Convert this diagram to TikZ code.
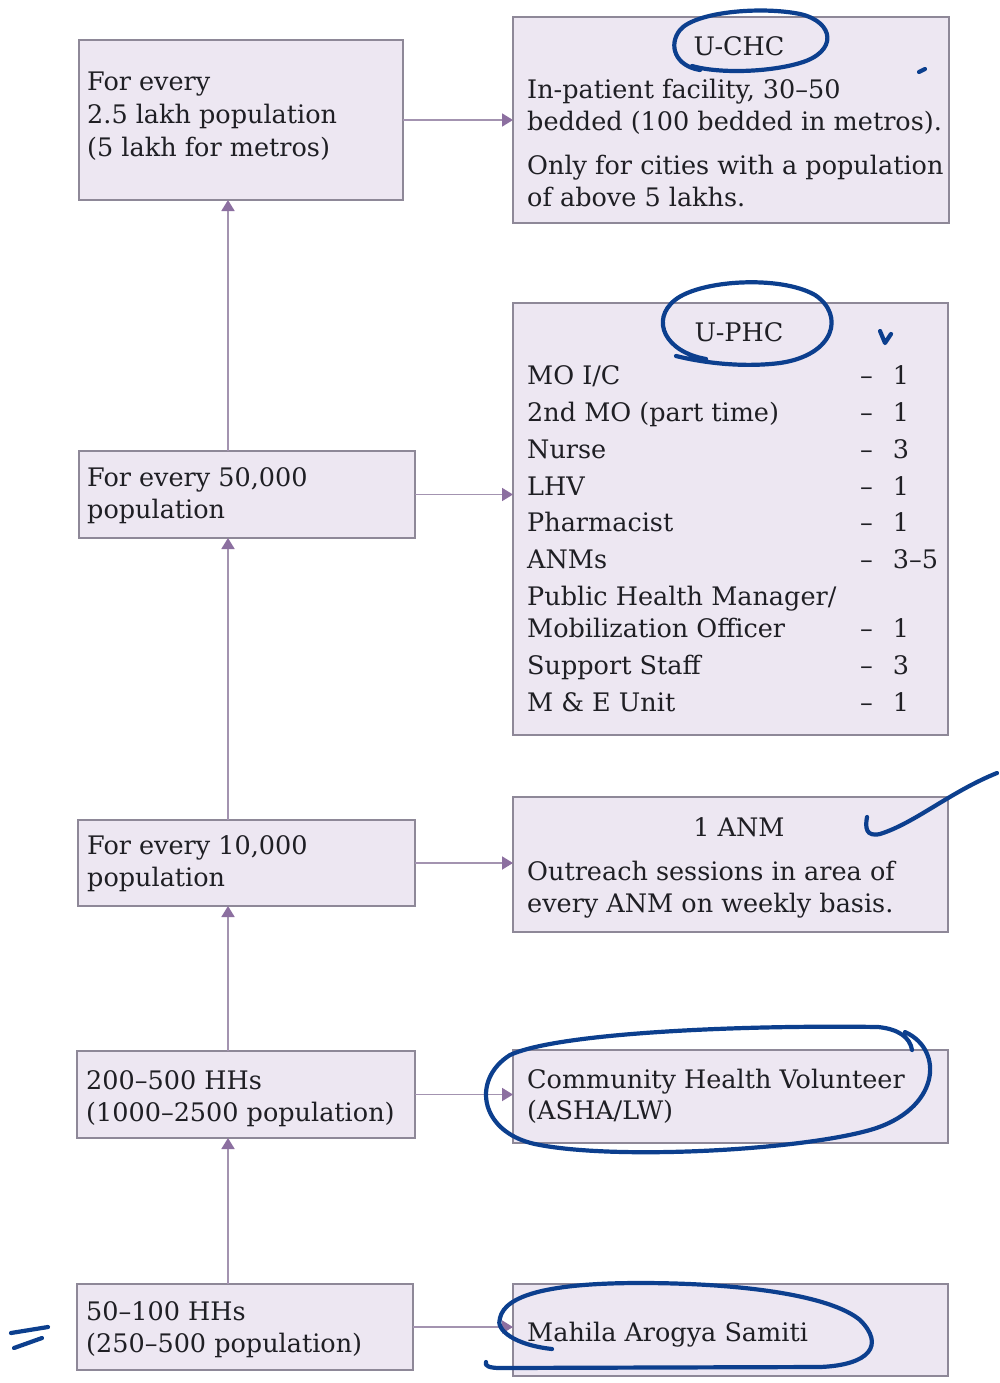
\documentclass[tikz,border=0pt]{standalone}
\usepackage{fontspec}
\setmainfont{DejaVu Serif}
\usetikzlibrary{arrows.meta}
\definecolor{boxfill}{HTML}{EDE7F2}
\definecolor{boxline}{HTML}{8E8898}
\definecolor{textc}{HTML}{1F1F24}
\definecolor{connc}{HTML}{A393B0}
\definecolor{tipc}{HTML}{8C6FA0}
\definecolor{pen}{HTML}{0C3F8E}
\tikzset{
  box/.style={draw=boxline, fill=boxfill, line width=1.8pt, inner sep=0pt, outer sep=0pt},
  txt/.style={anchor=base west, inner sep=0pt, text=textc, font=\fontsize{25.5}{32}\selectfont},
  ctxt/.style={anchor=base, inner sep=0pt, text=textc, font=\fontsize{25.5}{32}\selectfont},
  conn/.style={draw=connc, line width=1.8pt, -{Triangle[length=11pt,width=13pt,color=tipc]}},
  ink/.style={draw=pen, line width=4.2pt, line cap=round, line join=round}
}
\newcommand{\cnt}[1]{–\hspace{20pt}#1}
\begin{document}
\begin{tikzpicture}[x=1pt,y=-1pt]
\useasboundingbox[fill=white] (0,0) rectangle (999,1383);

% left boxes
\node[box, minimum width=324pt, minimum height=160pt] (L1) at (241,120) {};
\node[box, minimum width=336pt, minimum height=87pt] (L2) at (247,494.5) {};
\node[box, minimum width=337pt, minimum height=86pt] (L3) at (246.5,863) {};
\node[box, minimum width=338pt, minimum height=87pt] (L4) at (246,1094.5) {};
\node[box, minimum width=336pt, minimum height=86pt] (L5) at (245,1327) {};

% right boxes
\node[box, minimum width=436pt, minimum height=206pt] (R1) at (731,120) {};
\node[box, minimum width=435pt, minimum height=432pt] (R2) at (730.5,519) {};
\node[box, minimum width=435pt, minimum height=135pt] (R3) at (730.5,864.5) {};
\node[box, minimum width=435pt, minimum height=93pt] (R4) at (730.5,1096.5) {};
\node[box, minimum width=435pt, minimum height=92pt] (R5) at (730.5,1330) {};

% connectors
\coordinate (vx) at (228,0);
\draw[conn] (L1.east) -- (L1.east -| R1.west);
\draw[conn] (L2.east) -- (L2.east -| R2.west);
\draw[conn] (L3.east) -- (L3.east -| R3.west);
\draw[conn] (L4.east) -- (L4.east -| R4.west);
\draw[conn] (L5.east) -- (L5.east -| R5.west);
\draw[conn] (vx |- L5.north) -- (vx |- L4.south);
\draw[conn] (vx |- L4.north) -- (vx |- L3.south);
\draw[conn] (vx |- L3.north) -- (vx |- L2.south);
\draw[conn] (vx |- L2.north) -- (vx |- L1.south);

% left texts
\node[txt] (l1a) at (87,91) {For every};
\node[txt] (l1b) at (87,124) {2.5 lakh population};
\node[txt] (l1c) at (87,157) {(5 lakh for metros)};
\node[txt] (l2a) at (87,486) {For every 50,000};
\node[txt] (l2b) at (87,518) {population};
\node[txt] (l3a) at (87,854) {For every 10,000};
\node[txt] (l3b) at (87,886) {population};
\node[txt] (l4a) at (86,1089) {200–500 HHs};
\node[txt] (l4b) at (86,1121) {(1000–2500 population)};
\node[txt] (l5a) at (86,1320) {50–100 HHs};
\node[txt] (l5b) at (86,1352) {(250–500 population)};

% right box 1
\node[ctxt] (r1h) at (739,56) {U-CHC};
\node[txt] (r1a) at (527,99) {In-patient facility, 30–50};
\node[txt] (r1b) at (527,131) {bedded (100 bedded in metros).};
\node[txt] (r1c) at (527,175) {Only for cities with a population};
\node[txt] (r1d) at (527,206) {of above 5 lakhs.};

% right box 2
\node[ctxt] (r2h) at (739,341) {U-PHC};
\node[txt] (s1) at (527,384) {MO I/C};
\node[txt] (s2) at (527,421) {2nd MO (part time)};
\node[txt] (s3) at (527,458) {Nurse};
\node[txt] (s4) at (527,495) {LHV};
\node[txt] (s5) at (527,531) {Pharmacist};
\node[txt] (s6) at (527,568) {ANMs};
\node[txt] (s7) at (527,605) {Public Health Manager/};
\node[txt] (s8) at (527,637) {Mobilization Officer};
\node[txt] (s9) at (527,674) {Support Staff};
\node[txt] (s10) at (527,711) {M \& E Unit};
\node[txt] (n1) at (860,384) {\cnt{1}};
\node[txt] (n2) at (860,421) {\cnt{1}};
\node[txt] (n3) at (860,458) {\cnt{3}};
\node[txt] (n4) at (860,495) {\cnt{1}};
\node[txt] (n5) at (860,531) {\cnt{1}};
\node[txt] (n6) at (860,568) {\cnt{3–5}};
\node[txt] (n8) at (860,637) {\cnt{1}};
\node[txt] (n9) at (860,674) {\cnt{3}};
\node[txt] (n10) at (860,711) {\cnt{1}};

% right box 3
\node[ctxt] (r3h) at (739,836) {1 ANM};
\node[txt] (r3a) at (527,880) {Outreach sessions in area of};
\node[txt] (r3b) at (527,912) {every ANM on weekly basis.};

% right box 4
\node[txt] (r4a) at (527,1088) {Community Health Volunteer};
\node[txt] (r4b) at (527,1119) {(ASHA/LW)};

% right box 5
\node[txt] (r5a) at (527,1341) {Mahila Arogya Samiti};

% hand-drawn annotations
\draw[ink] (700,70) .. controls (675,66) and (668,45) .. (680,30) .. controls (695,12) and (760,6) .. (800,14) .. controls (835,22) and (838,52) .. (800,63) .. controls (770,72) and (720,74) .. (692,66);
\draw[ink] (919,72) -- (925,69);
\draw[ink] (706,359) .. controls (665,352) and (650,320) .. (675,300) .. controls (700,280) and (780,275) .. (815,295) .. controls (845,315) and (835,355) .. (780,363) .. controls (740,368) and (700,362) .. (676,356);
\draw[ink] (880,331) -- (885,343) -- (891,334);
\draw[ink] (867,817) .. controls (865,828) and (866,837) .. (880,834) .. controls (915,823) and (950,792) .. (997,773);
\draw[ink] (905,1032) .. controls (945,1050) and (940,1110) .. (870,1130) .. controls (800,1150) and (620,1160) .. (540,1145) .. controls (480,1135) and (470,1080) .. (510,1055) .. controls (560,1032) and (750,1025) .. (878,1027) .. controls (898,1029) and (910,1037) .. (912,1050);
\draw[ink] (552,1349) .. controls (515,1345) and (495,1330) .. (500,1318) .. controls (505,1295) and (550,1283) .. (640,1283) .. controls (740,1283) and (830,1295) .. (860,1320) .. controls (885,1345) and (870,1365) .. (820,1367) -- (500,1368) .. controls (490,1368) and (484,1366) .. (486,1362);
\draw[ink] (11,1333) -- (48,1327);
\draw[ink] (14,1348) -- (42,1338);
\end{tikzpicture}
\end{document}
